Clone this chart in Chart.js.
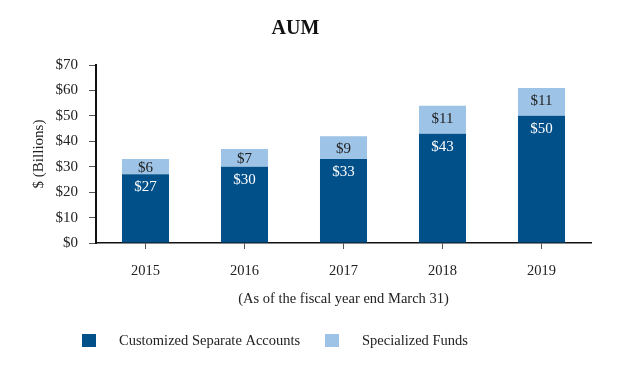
<!DOCTYPE html>
<html>
<head>
<meta charset="utf-8">
<script src="https://cdn.jsdelivr.net/npm/chart.js@4.4.1/dist/chart.umd.min.js"></script>
<style>
  html, body { margin: 0; padding: 0; background: #fff; }
  #wrap { width: 624px; height: 378px; }
</style>
</head>
<body>
<div id="wrap"><canvas id="aumChart"></canvas></div>
<script>
  const years = ['2015', '2016', '2017', '2018', '2019'];
  const separateAccounts = [27, 30, 33, 43, 50];
  const specializedFunds = [6, 7, 9, 11, 11];
  const yMin = 0;
  const yMax = 70;
  const yStep = 10;

  const DARK = '#02508a';
  const LIGHT = '#9dc3e6';
  const SERIF = '"Liberation Serif", "Times New Roman", serif';

  // "$27" style labels near the top of each segment (centred when the segment is short)
  const valueLabels = {
    id: 'valueLabels',
    afterDatasetsDraw(chart) {
      const ctx = chart.ctx;
      chart.data.datasets.forEach((ds, i) => {
        chart.getDatasetMeta(i).data.forEach((bar, j) => {
          const h = Math.abs(bar.base - bar.y);
          const mid = bar.y + Math.min(12, h / 2);
          ctx.save();
          ctx.font = '15px ' + SERIF;
          ctx.fillStyle = ds.labelColor;
          ctx.textAlign = 'center';
          ctx.textBaseline = 'alphabetic';
          ctx.fillText('$' + ds.data[j], bar.x, mid + 5);
          ctx.restore();
        });
      });
    }
  };

  // legend row under the axis title, wider box/text gap than the stock legend
  const bottomLegend = {
    id: 'bottomLegend',
    afterDraw(chart) {
      const ctx = chart.ctx;
      const slots = [{ box: 82, text: 119 }, { box: 325, text: 362 }];
      chart.data.datasets.forEach((ds, i) => {
        const s = slots[i];
        ctx.save();
        ctx.fillStyle = ds.backgroundColor;
        ctx.fillRect(s.box, 334, 14, 13);
        ctx.font = '14.5px ' + SERIF;
        ctx.fillStyle = '#222';
        ctx.textBaseline = 'middle';
        ctx.fillText(ds.label, s.text, 341);
        ctx.restore();
      });
    }
  };

  new Chart(document.getElementById('aumChart'), {
    type: 'bar',
    data: {
      labels: years,
      datasets: [
        {
          label: 'Customized Separate Accounts',
          data: separateAccounts,
          backgroundColor: DARK,
          labelColor: '#ffffff',
          barPercentage: 0.475,
          categoryPercentage: 1
        },
        {
          label: 'Specialized Funds',
          data: specializedFunds,
          backgroundColor: LIGHT,
          labelColor: '#222222',
          barPercentage: 0.475,
          categoryPercentage: 1
        }
      ]
    },
    options: {
      responsive: true,
      maintainAspectRatio: false,
      animation: false,
      layout: { padding: { left: 0, right: 33, top: 0, bottom: 65 } },
      plugins: {
        legend: { display: false },
        tooltip: { enabled: false },
        title: {
          display: true,
          text: 'AUM',
          color: '#111',
          font: { family: SERIF, size: 20, weight: 'bold' },
          padding: { top: 17, bottom: 24 }
        }
      },
      scales: {
        x: {
          stacked: true,
          afterFit: s => { s.height = 70; },
          border: { display: true, color: '#111', width: 1.5 },
          grid: { offset: false, drawOnChartArea: false, drawTicks: true, tickLength: 6, tickColor: '#555', tickWidth: 1 },
          ticks: { color: '#222', padding: 13, font: { family: SERIF, size: 14.5 } },
          title: {
            display: true,
            text: '(As of the fiscal year end March 31)',
            color: '#222',
            font: { family: SERIF, size: 14.5 },
            padding: { top: 0, bottom: 5 }
          }
        },
        y: {
          stacked: true,
          min: yMin,
          max: yMax,
          afterFit: s => { s.width = 96; },
          border: { display: true, color: '#111', width: 2 },
          grid: { drawOnChartArea: false, drawTicks: true, tickLength: 7, tickColor: '#555', tickWidth: 1 },
          ticks: {
            stepSize: yStep,
            color: '#222',
            padding: 11,
            font: { family: SERIF, size: 15 },
            callback: v => '$' + v
          },
          title: {
            display: true,
            text: '$ (Billions)',
            color: '#222',
            font: { family: SERIF, size: 15 },
            padding: { top: 30, bottom: 0 }
          }
        }
      }
    },
    plugins: [valueLabels, bottomLegend]
  });
</script>
</body>
</html>
